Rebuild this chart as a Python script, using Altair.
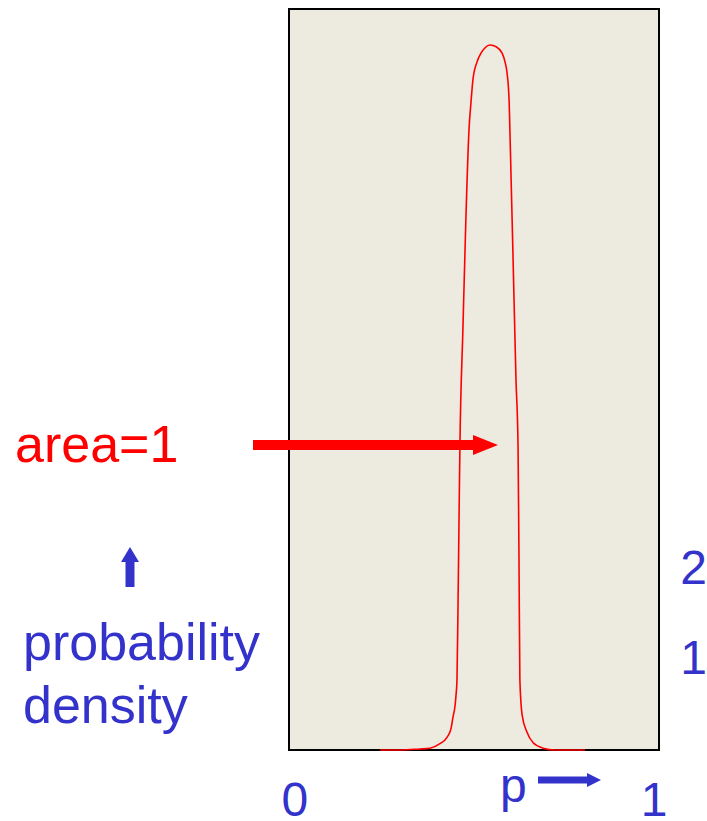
import altair as alt
import pandas as pd

# Density curve of p
p = [0.246, 0.300, 0.327, 0.354, 0.381, 0.408, 0.427, 0.438, 0.443, 0.449,
     0.451, 0.454, 0.457, 0.4595, 0.462, 0.470, 0.478, 0.4865, 0.492, 0.497,
     0.508, 0.519, 0.530, 0.543, 0.560, 0.576, 0.584, 0.589, 0.595, 0.597,
     0.605, 0.6135, 0.619, 0.6216, 0.624, 0.630, 0.643, 0.660, 0.687, 0.719,
     0.800]
density = [0.0, 0.0, 0.006, 0.011, 0.02, 0.07, 0.14, 0.24, 0.36, 0.50,
           0.59, 0.78, 1.67, 2.56, 3.39, 4.67, 5.89, 6.89, 7.2, 7.44,
           7.64, 7.74, 7.80, 7.83, 7.81, 7.74, 7.64, 7.53, 7.2, 6.89,
           5.56, 4.11, 3.39, 2.11, 0.78, 0.39, 0.2, 0.08, 0.02, 0.0,
           0.0]
x_ticks = [0, 1]
y_ticks = [1, 2]

FONT = "Liberation Sans"
BLUE = "#3333cc"
RED = "#ff0000"
W, H = 370, 741

curve_df = pd.DataFrame({"p": p, "density": density})
one = pd.DataFrame({"k": [0]})

x_scale = alt.Scale(domain=[0, 1], nice=False, zero=False)
y_scale = alt.Scale(domain=[0, 8.23], nice=False)

curve = alt.Chart(curve_df).mark_line(
    color=RED, strokeWidth=1.6, interpolate="monotone"
).encode(
    x=alt.X("p:Q", scale=x_scale,
            axis=alt.Axis(values=x_ticks, format="d", title=None, grid=False,
                          domain=False, ticks=False, tickSize=0,
                          labelPadding=27, labelFlush=True,
                          labelFlushOffset=8, labelFontSize=48,
                          labelFont=FONT, labelColor=BLUE)),
    y=alt.Y("density:Q", scale=y_scale,
            axis=alt.Axis(orient="right", values=y_ticks, format="d",
                          title=None, grid=False, domain=False, ticks=False,
                          tickSize=0, labelPadding=34, labelAlign="center",
                          labelFontSize=48, labelFont=FONT, labelColor=BLUE)),
)


def label(text, x, y, color, size):
    return alt.Chart(pd.DataFrame({"t": [text]})).mark_text(
        align="left", baseline="alphabetic", fontSize=size, font=FONT,
        color=color
    ).encode(text="t:N", x=alt.value(x), y=alt.value(y))


def shaft(x1, x2, y1, y2, width, color):
    return alt.Chart(one).mark_rule(
        color=color, strokeWidth=width, strokeCap="butt"
    ).encode(x=alt.value(x1), x2=alt.value(x2),
             y=alt.value(y1), y2=alt.value(y2))


def head(path, x, y, size, color):
    return alt.Chart(one).mark_point(
        shape=path, filled=True, size=size, color=color, opacity=1,
        strokeWidth=0
    ).encode(x=alt.value(x), y=alt.value(y))


RIGHT_HEAD = "M -1 -0.8 L 1 0 L -1 0.8 Z"
UP_HEAD = "M -1 0.83 L 0 -0.83 L 1 0.83 Z"
SMALL_RIGHT_HEAD = "M -1 -1 L 1 0 L -1 1 Z"

annotations = [
    label("area=1", -274, 453, RED, 52),
    shaft(-36, 186, 436, 436, 10, RED),
    head(RIGHT_HEAD, 196.5, 436, 625, RED),
    shaft(-159, -159, 551, 578, 9, BLUE),
    head(UP_HEAD, -159, 545.5, 324, BLUE),
    label("probability", -266, 651, BLUE, 52),
    label("density", -266, 714, BLUE, 52),
    label("p", 211, 793, BLUE, 48),
    shaft(249, 300, 771, 771, 7, BLUE),
    head(SMALL_RIGHT_HEAD, 305, 771, 196, BLUE),
]

chart = alt.layer(curve, *annotations).properties(
    width=W, height=H,
    autosize=alt.AutoSizeParams(type="none"),
    padding={"left": 289, "top": 9, "right": 48, "bottom": 71},
    background="white",
).configure_view(
    fill="#edeae0", stroke="black", strokeWidth=2
)

chart.save("out.html", embed_options={"renderer": "svg", "actions": False})
